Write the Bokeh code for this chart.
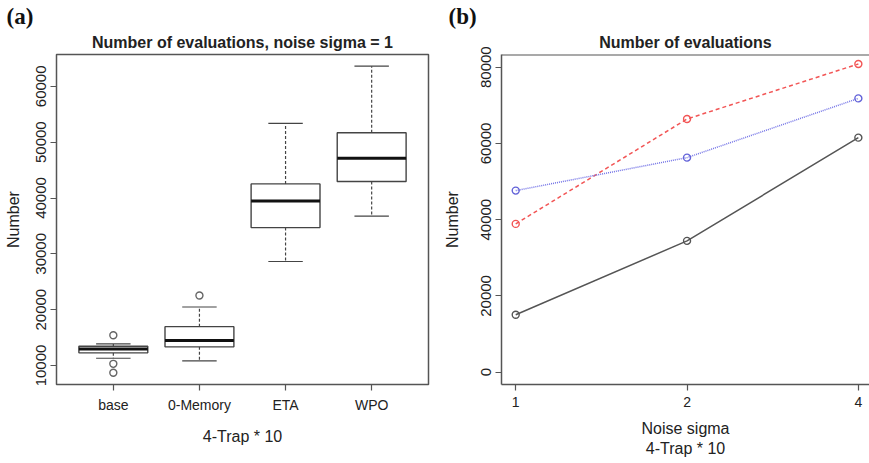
import numpy as np
from bokeh.plotting import figure
from bokeh.layouts import row
from bokeh.models import Range1d, FixedTicker, Title, Span
from bokeh.embed import file_html
from bokeh.resources import INLINE

# ---- Panel (a): box plot data ----
categories = ["base", "0-Memory", "ETA", "WPO"]
q1 = [12270, 13340, 34700, 42950]
median = [12980, 14460, 39460, 47110]
q3 = [13450, 16960, 42530, 51690]
whisk_low = [11300, 10840, 28630, 36750]
whisk_high = [13870, 20480, 53370, 63610]
outlier_cat = ["base", "base", "base", "0-Memory"]
outlier_val = [15410, 10300, 8700, 22550]
yticks_a = [10000, 20000, 30000, 40000, 50000, 60000]

# ---- Panel (b): line data ----
sigma_labels = ["1", "2", "4"]
series_black = [15050, 34440, 61520]
series_red = [38900, 66420, 80840]
series_blue = [47630, 56280, 71820]
yticks_b = [0, 20000, 40000, 60000, 80000]

FONT = "Liberation Sans"
TXT = "#222222"
AX = "#555555"


def style(p):
    p.toolbar_location = None
    p.background_fill_color = "white"
    p.border_fill_color = "white"
    p.xgrid.visible = False
    p.ygrid.visible = False
    for ax in (p.xaxis[0], p.yaxis[0]):
        ax.axis_line_color = None
        ax.major_tick_line_color = AX
        ax.major_tick_line_width = 1.2
        ax.major_tick_out = 6
        ax.major_tick_in = 0
        ax.minor_tick_line_color = None
        ax.major_label_text_font = FONT
        ax.major_label_text_font_size = "14px"
        ax.major_label_text_color = TXT
        ax.axis_label_text_font = FONT
        ax.axis_label_text_font_size = "16px"
        ax.axis_label_text_font_style = "normal"
        ax.axis_label_text_color = TXT
    p.yaxis[0].major_label_text_font_size = "15px"
    p.yaxis[0].major_label_orientation = "vertical"
    # panel letter as the outer title
    p.title.text_font = "Liberation Serif"
    p.title.text_font_size = "23px"
    p.title.text_font_style = "bold"
    p.title.text_color = "#111111"
    p.title.align = "left"
    p.title.standoff = 0


def main_title(p, text):
    p.add_layout(Title(text=text, text_font=FONT, text_font_size="16px", text_font_style="bold",
                       text_color=TXT, align="center", standoff=7), "above")


# ---------------- Panel (a) ----------------
xa = np.arange(1, len(categories) + 1)
pa = figure(width=440, height=463, output_backend="svg", toolbar_location=None,
            x_range=Range1d(0.34, 4.66), y_range=Range1d(6600, 65700),
            title="(a)",
            min_border_left=56, min_border_right=12, min_border_top=54, min_border_bottom=79)
style(pa)
pa.title.offset = -50
main_title(pa, "Number of evaluations, noise sigma = 1")
pa.outline_line_color = AX
pa.outline_line_width = 1.5
pa.xaxis[0].ticker = FixedTicker(ticks=list(xa))
pa.xaxis[0].major_label_overrides = {int(i): c for i, c in zip(xa, categories)}
pa.yaxis[0].ticker = FixedTicker(ticks=yticks_a)
pa.xaxis[0].axis_label = "4-Trap * 10"
pa.yaxis[0].axis_label = "Number"
pa.xaxis[0].major_label_standoff = 6
pa.xaxis[0].axis_label_standoff = 12
pa.yaxis[0].major_label_standoff = 4
pa.yaxis[0].axis_label_standoff = 12

hw = 0.4
cw = 0.2
# whiskers (dashed)
pa.segment(x0=xa, y0=q3, x1=xa, y1=whisk_high, line_color="#444444", line_width=1.2, line_dash="3 2")
pa.segment(x0=xa, y0=q1, x1=xa, y1=whisk_low, line_color="#444444", line_width=1.2, line_dash="3 2")
# caps
pa.segment(x0=xa - cw, y0=whisk_high, x1=xa + cw, y1=whisk_high, line_color="#444444", line_width=1.2)
pa.segment(x0=xa - cw, y0=whisk_low, x1=xa + cw, y1=whisk_low, line_color="#444444", line_width=1.2)
# boxes
pa.vbar(x=xa, width=2 * hw, bottom=q1, top=q3, fill_color="white", line_color="#444444", line_width=1.4)
# medians
pa.segment(x0=xa - hw, y0=median, x1=xa + hw, y1=median, line_color="#111111", line_width=3)
# outliers
ox = [categories.index(c) + 1 for c in outlier_cat]
pa.scatter(x=ox, y=outlier_val, marker="circle", size=7, fill_color=None, line_color="#666666", line_width=1.4)

# ---------------- Panel (b) ----------------
xb = np.arange(1, len(sigma_labels) + 1)
yb_end = 83330
pb = figure(width=429, height=463, output_backend="svg", toolbar_location=None,
            x_range=Range1d(0.917, 3.065), y_range=Range1d(-3230, yb_end),
            title="(b)",
            min_border_left=61, min_border_right=0, min_border_top=54, min_border_bottom=79)
style(pb)
pb.title.offset = -53
main_title(pb, "Number of evaluations")
pb.outline_line_color = None
pb.xaxis[0].axis_line_color = AX
pb.xaxis[0].axis_line_width = 1.5
pb.yaxis[0].axis_line_color = AX
pb.yaxis[0].axis_line_width = 1.5
pb.xaxis[0].ticker = FixedTicker(ticks=list(xb))
pb.xaxis[0].major_label_overrides = {int(i): s for i, s in zip(xb, sigma_labels)}
pb.yaxis[0].ticker = FixedTicker(ticks=yticks_b)
pb.xaxis[0].axis_label = "Noise sigma\n4-Trap * 10"
pb.yaxis[0].axis_label = "Number"
pb.xaxis[0].major_label_standoff = 6
pb.xaxis[0].axis_label_standoff = 10
pb.yaxis[0].major_label_standoff = 4
pb.yaxis[0].axis_label_standoff = 18
pb.add_layout(Span(location=yb_end, dimension="width", line_color=AX, line_width=2))

pb.line(xb, series_black, line_color="#555555", line_width=1.5)
pb.scatter(xb, series_black, marker="circle", size=7, fill_color=None, line_color="#555555", line_width=1.4)
pb.line(xb, series_red, line_color="#f25555", line_width=1.5, line_dash="4 3")
pb.scatter(xb, series_red, marker="circle", size=7, fill_color=None, line_color="#f25555", line_width=1.4)
pb.line(xb, series_blue, line_color="#7373e6", line_width=1.5, line_dash="1 1")
pb.scatter(xb, series_blue, marker="circle", size=7, fill_color=None, line_color="#6262d8", line_width=1.4)

layout = row(pa, pb)
open("out.html", "w").write(file_html(layout, INLINE))
